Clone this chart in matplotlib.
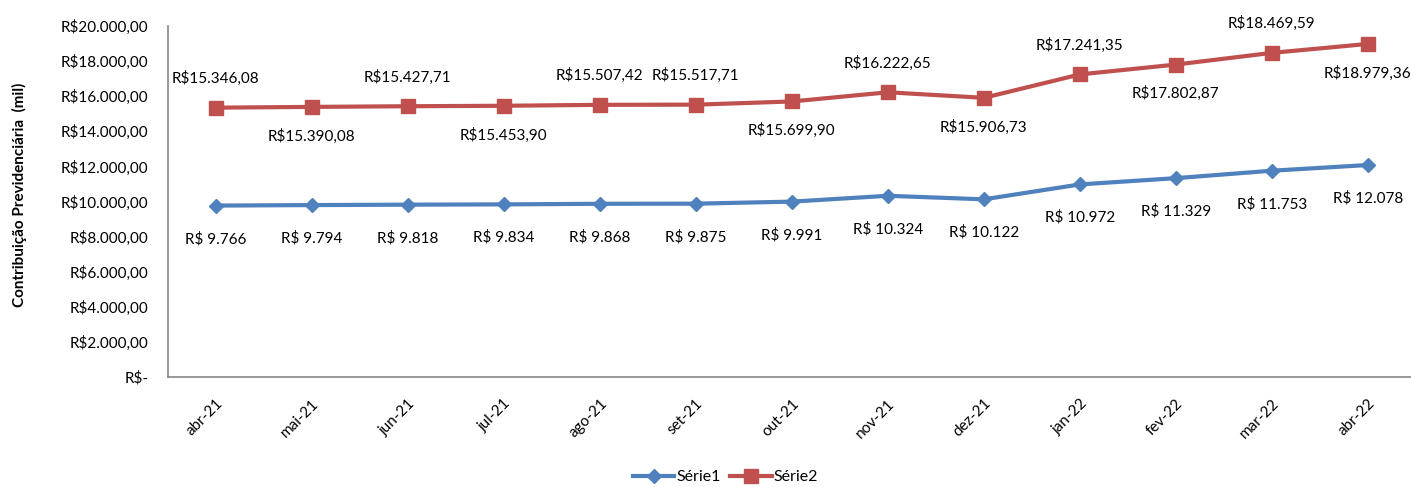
import matplotlib.pyplot as plt
from matplotlib.ticker import FuncFormatter

plt.rcParams['font.family'] = ['Lato', 'DejaVu Sans']

months = ['abr-21', 'mai-21', 'jun-21', 'jul-21', 'ago-21', 'set-21', 'out-21',
          'nov-21', 'dez-21', 'jan-22', 'fev-22', 'mar-22', 'abr-22']
serie1 = [9766, 9794, 9818, 9834, 9868, 9875, 9991, 10324, 10122, 10972, 11329, 11753, 12078]
serie2 = [15346.08, 15390.08, 15427.71, 15453.90, 15507.42, 15517.71, 15699.90,
          16222.65, 15906.73, 17241.35, 17802.87, 18469.59, 18979.36]
# label placement for Série2: 1 = above, -1 = below
serie2_side = [1, -1, 1, -1, 1, 1, -1, 1, -1, 1, -1, 1, -1]

blue = '#4F81BD'
red = '#C0504D'


def brl(v, decimals=2, space=False):
    s = f"{v:,.{decimals}f}".replace(',', 'X').replace('.', ',').replace('X', '.')
    return ('R$ ' if space else 'R$') + s


fig = plt.figure(figsize=(14.11, 4.87), dpi=100)
ax = fig.add_axes([0.119, 0.226, 0.8845, 0.7206])

x = list(range(len(months)))
ax.plot(x, serie1, color=blue, lw=3, marker='D', ms=7, label='Série1')
ax.plot(x, serie2, color=red, lw=3, marker='s', ms=10, label='Série2')

for i, v in enumerate(serie1):
    ax.annotate(brl(v, 0, True), (i, v), xytext=(0, -24), textcoords='offset points',
                ha='center', va='center', fontsize=11)
for i, v in enumerate(serie2):
    ax.annotate(brl(v), (i, v), xytext=(0, 21 * serie2_side[i]), textcoords='offset points',
                ha='center', va='center', fontsize=11)

ax.set_xlim(-0.5, 12.5)
ax.set_ylim(0, 20000)
ax.set_yticks(range(0, 20001, 2000))
ax.yaxis.set_major_formatter(FuncFormatter(lambda v, p: 'R$-' if v == 0 else brl(v)))
ax.set_xticks(x)
ax.set_xticklabels(months, rotation=45, ha='right', rotation_mode='anchor')
ax.tick_params(length=0, labelsize=11, colors='#000000')
ax.tick_params(axis='y', pad=14)
ax.tick_params(axis='x', pad=14)

for s in ['top', 'right']:
    ax.spines[s].set_visible(False)
for s in ['left', 'bottom']:
    ax.spines[s].set_color('#868686')
    ax.spines[s].set_linewidth(1.2)

fig.text(0.014, 0.6, 'Contribuição Previdenciária  (mil)', rotation=90, ha='center', va='center',
         fontsize=11, fontweight='bold')

fig.legend(loc='center', bbox_to_anchor=(0.514, 0.02), ncol=2, frameon=False, fontsize=11.5,
           handlelength=2.6, handletextpad=0.1, columnspacing=0.6)

fig.savefig('out.png', dpi=100)
